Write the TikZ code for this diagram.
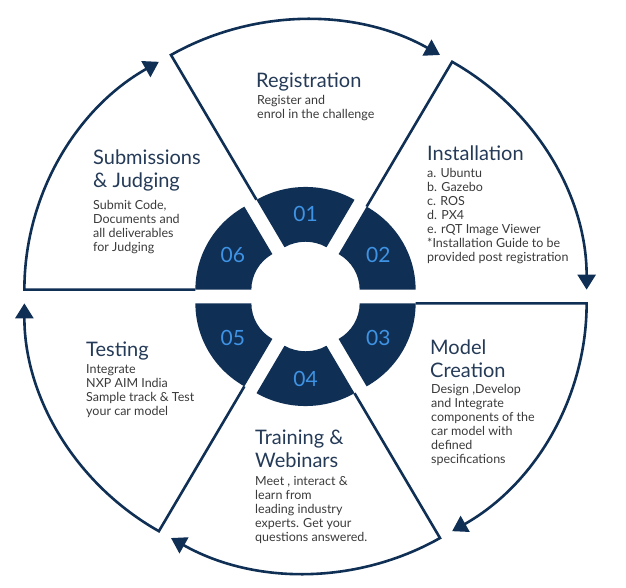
\documentclass[tikz,border=0pt]{standalone}
\usepackage{fontspec}
\setmainfont{Lato}
\usetikzlibrary{arrows.meta}
\definecolor{navy}{HTML}{0F2F55}
\definecolor{numblue}{HTML}{3F93E4}
\definecolor{titlecol}{HTML}{243A57}
\definecolor{bodycol}{HTML}{3A3A3A}
\begin{document}
\begin{tikzpicture}[x=1pt,y=1pt,
  flow/.style={draw=navy, line width=2.6pt, line join=miter,
    -{Triangle[length=15pt,width=18pt]}},
  ringseg/.style={fill=navy},
  num/.style={text=numblue, inner sep=0, font=\fontsize{21}{21}\selectfont},
  title/.style={anchor=north west, inner sep=0, text=titlecol, align=left,
    font=\fontsize{20}{23}\selectfont},
  body/.style={anchor=north west, inner sep=0, text=bodycol, align=left,
    font=\fontsize{12.5}{14}\selectfont}]
\useasboundingbox (0,0) rectangle (626,587);
% six exploded wedges: ring segment, outline with arrow, step number
\begin{scope}[shift={(305.5,290.5)}, yscale=0.978]
  \foreach \k/\m in {01/90, 02/30, 03/-30, 04/-90, 05/210, 06/150}{
    \begin{scope}[shift={(\m:14)}]
      \fill[ringseg] (\m-30:42) arc[start angle=\m-30, end angle=\m+30, radius=42]
        -- (\m+30:98) arc[start angle=\m+30, end angle=\m-30, radius=98] -- cycle;
      \draw[flow] (\m+30:98) -- (\m+30:269)
        arc[start angle=\m+30, end angle=\m-30, radius=269];
      \node[num] (n\k) at (\m:70) {\k};
    \end{scope}
  }
\end{scope}
% step texts
\node[title] (t1) at (256,587-73) {Registration};
\node[body] (b1) at (257,587-95) {Register and\\enrol in the challenge};
\node[title] (t2) at (427,587-146) {Installation};
\node[body] (b2) at (427,587-168) {a. Ubuntu\\b. Gazebo\\c. ROS\\d. PX4\\e. rQT Image Viewer\\*Installation Guide to be\\provided post registration};
\node[title] (t3) at (430,587-340) {Model\\Creation};
\node[body] (b3) at (431,587-384) {Design ,Develop\\and Integrate\\components of the\\car model with\\defined\\specifications};
\node[title] (t4) at (255,587-430) {Training \&\\Webinars};
\node[body] (b4) at (255,587-476) {Meet , interact \&\\learn from\\leading industry\\experts. Get your\\questions answered.};
\node[title] (t5) at (86,587-342) {Testing};
\node[body] (b5) at (86,587-364) {Integrate\\NXP AIM India\\Sample track \& Test\\your car model};
\node[title] (t6) at (93,587-150) {Submissions\\\& Judging};
\node[body] (b6) at (93,587-200) {Submit Code,\\Documents and\\all deliverables\\for Judging};
\end{tikzpicture}
\end{document}
